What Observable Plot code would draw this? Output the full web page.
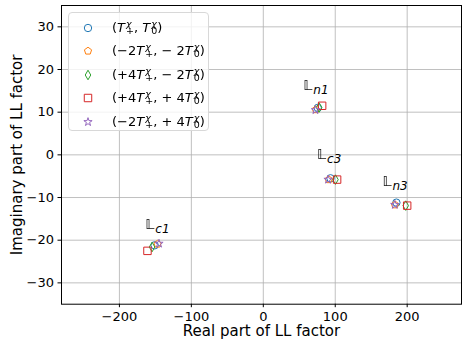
<!DOCTYPE html>
<html><head><meta charset="utf-8">
<script src="https://cdn.jsdelivr.net/npm/d3@7"></script>
<script src="https://cdn.jsdelivr.net/npm/@observablehq/plot@0.6"></script>
<style>
body{margin:0;background:#fff;font-family:"DejaVu Sans",sans-serif;}
#wrap{position:relative;width:462px;height:341px;}
#legend{position:absolute;left:68px;top:12px;width:141px;height:119px;border:1px solid #d8d8d8;border-radius:4px;background:rgba(255,255,255,0.8);box-sizing:border-box;}
.lrow{position:absolute;left:0;height:20px;width:140px;}
.lsym{position:absolute;left:11px;top:2px;}
.ltxt{position:absolute;left:43px;top:0;font-size:13px;line-height:20px;white-space:nowrap;color:#000;font-family:"DejaVu Sans",sans-serif;}
.ss{display:inline-flex;flex-direction:column;align-items:flex-start;vertical-align:5px;font-size:9.5px;line-height:7px;font-style:italic;margin-left:1px;}
.it{font-style:italic;}
.bb text{will-change:transform;}
</style>
</head><body>
<div id="wrap"></div>
<script>
// ---- data ----
const clusterNames = ["n1", "c3", "n3", "c1"];
const seriesKeys = ["T", "m2m2", "p4m2", "p4p4", "m2p4"];
const coefPlus = ["", "−2", "+4", "+4", "−2"];
const coefZero = ["", "− 2", "− 2", "+ 4", "+ 4"];
const seriesColors = ["#1f77b4", "#ff7f0e", "#2ca02c", "#d62728", "#9467bd"];

const re_T    = [75.7, 93.4, 185.0, -151.0];
const im_T    = [11.0, -5.5, -11.2, -21.2];
const re_m2m2 = [73.0, 91.0, 183.0, -147.0];
const im_m2m2 = [10.6, -5.8, -11.7, -20.9];
const re_p4m2 = [77.6, 100.3, 198.0, -154.6];
const im_p4m2 = [11.1, -5.8, -11.9, -21.6];
const re_p4p4 = [81.8, 102.6, 200.0, -161.0];
const im_p4p4 = [11.5, -5.8, -11.9, -22.5];
const re_m2p4 = [72.5, 90.0, 182.8, -145.0];
const im_m2p4 = [10.5, -5.8, -11.7, -20.8];

const labelX = [55.7, 74.7, 165.7, -164.0];
const labelY = [15.2, -0.9, -7.2, -17.3];

const xTicks = [-200, -100, 0, 100, 200];
const yTicks = [-30, -20, -10, 0, 10, 20, 30];
const xLabel = "Real part of LL factor";
const yLabel = "Imaginary part of LL factor";

// ---- build ----
const reAll = [re_T, re_m2m2, re_p4m2, re_p4p4, re_m2p4];
const imAll = [im_T, im_m2m2, im_p4m2, im_p4p4, im_m2p4];

const pentagon = {
  draw(ctx, size) {
    const r = Math.sqrt(size / (2.5 * Math.sin(2 * Math.PI / 5)));
    for (let i = 0; i < 5; i++) {
      const a = -Math.PI / 2 + i * 2 * Math.PI / 5;
      const px = r * Math.cos(a), py = r * Math.sin(a);
      if (i === 0) ctx.moveTo(px, py); else ctx.lineTo(px, py);
    }
    ctx.closePath();
  }
};
const seriesSymbols = [d3.symbolCircle, pentagon, d3.symbolDiamond, d3.symbolSquare, d3.symbolStar];
const seriesSizes = [3.7, 3.3, 2.9, 4.2, 2.6];

const dotMarks = seriesKeys.map((k, s) => Plot.dot(
  clusterNames.map((c, i) => ({x: reAll[s][i], y: imAll[s][i]})),
  {x: "x", y: "y", symbol: seriesSymbols[s], r: seriesSizes[s], stroke: seriesColors[s], fill: "none", strokeWidth: 1}
));

const labels = clusterNames.map((c, i) => ({x: labelX[i], y: labelY[i], sub: c}));

const chart = Plot.plot({
  width: 462, height: 341,
  marginLeft: 61, marginRight: 1, marginTop: 5, marginBottom: 37.3,
  style: {fontFamily: "DejaVu Sans, sans-serif", fontSize: "13px", color: "#000", background: "transparent"},
  x: {domain: [-280.5, 275.5]},
  y: {domain: [-35, 35]},
  marks: [
    Plot.gridX(xTicks, {stroke: "#b0b0b0", strokeOpacity: 1, strokeWidth: 0.8}),
    Plot.gridY(yTicks, {stroke: "#b0b0b0", strokeOpacity: 1, strokeWidth: 0.8}),
    Plot.axisX({ticks: xTicks, tickFormat: d3.format("d"), tickSize: 3.5, tickPadding: 4.5, label: null, fontSize: 13}),
    Plot.axisY({ticks: yTicks, tickFormat: d3.format("d"), tickSize: 3.5, tickPadding: 4, label: null, fontSize: 13}),
    Plot.text([xLabel], {frameAnchor: "bottom", textAnchor: "middle", dy: 32, lineAnchor: "bottom", fontSize: 15, fill: "#000"}),
    Plot.text([yLabel], {frameAnchor: "left", textAnchor: "middle", dx: -40, rotate: -90, lineAnchor: "bottom", fontSize: 15, fill: "#000"}),
    ...dotMarks,
    Plot.text(labels, {x: "x", y: "y", text: () => "𝕃", textAnchor: "start", lineAnchor: "bottom", fontSize: 14, fontFamily: "DejaVu Sans", fill: "#000", fillOpacity: 0.95, className: "bb"}),
    Plot.text(labels, {x: "x", y: "y", text: "sub", textAnchor: "start", lineAnchor: "bottom", dx: 10, dy: 4.5, fontSize: 12, fontStyle: "italic", fill: "#000"}),
    Plot.frame({stroke: "#000", strokeWidth: 1})
  ]
});
const wrap = document.getElementById("wrap");
wrap.appendChild(chart);

// ---- legend ----
const legend = document.createElement("div");
legend.id = "legend";
const rowCenters = [14.7, 38.2, 61.7, 85.2, 108.7];
seriesKeys.forEach((k, s) => {
  const row = document.createElement("div");
  row.className = "lrow";
  row.style.top = (rowCenters[s] - 10) + "px";
  const sym = d3.create("svg").attr("class", "lsym").attr("width", 16).attr("height", 16);
  sym.append("path")
    .attr("transform", "translate(8,8)")
    .attr("d", d3.symbol().type(seriesSymbols[s]).size(Math.PI * seriesSizes[s] * seriesSizes[s])())
    .attr("fill", "none").attr("stroke", seriesColors[s]).attr("stroke-width", 1);
  row.appendChild(sym.node());
  const txt = document.createElement("div");
  txt.className = "ltxt";
  const tPart = (c, sub) => `${c}<span class="it">T</span><span class="ss"><span>χ</span><span style="font-style:normal">${sub}</span></span>`;
  txt.innerHTML = `(${tPart(coefPlus[s], "+")}, ${tPart(coefZero[s], "0")})`;
  row.appendChild(txt);
  legend.appendChild(row);
});
wrap.appendChild(legend);
</script>
</body></html>
